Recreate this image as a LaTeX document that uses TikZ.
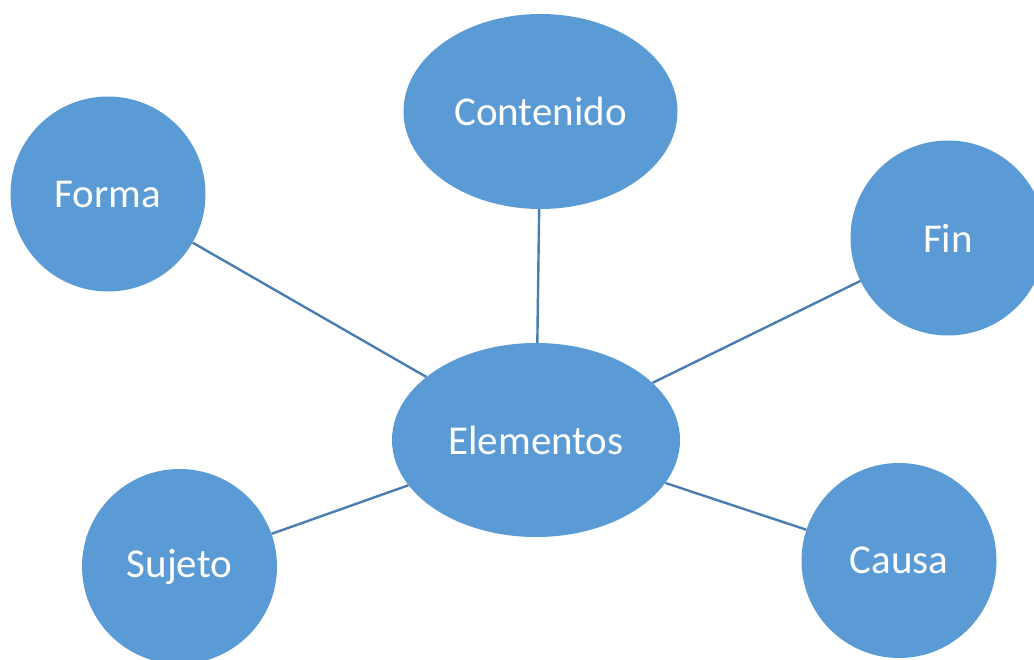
\documentclass[tikz,border=0pt]{standalone}
\usepackage{fontspec}
\setmainfont{Carlito}
\usetikzlibrary{shapes.geometric}
\definecolor{nodeblue}{HTML}{5B9BD5}
\definecolor{linkblue}{HTML}{4A7EB0}
\tikzset{
  bubble/.style={fill=nodeblue, draw=none, text=white, inner sep=0pt,
    font=\fontsize{41}{49}\selectfont},
  round/.style={bubble, circle, minimum size=195pt},
  link/.style={draw=linkblue, line width=2.4pt}
}
\begin{document}
\begin{tikzpicture}[x=1pt,y=-1pt]
\useasboundingbox (0,0) rectangle (1034,660);
\clip (0,0) rectangle (1034,660);
\node[bubble, ellipse, minimum width=274pt, minimum height=195pt] (contenido) at (540.5,111.5) {Contenido};
\node[bubble, ellipse, minimum width=288pt, minimum height=194pt] (elementos) at (536,440) {Elementos};
\node[round] (forma) at (108,194) {Forma};
\node[round] (fin) at (948,238) {Fin};
\node[round] (sujeto) at (179.5,566.5) {Sujeto};
\node[round] (causa) at (899,560.5) {Causa};
\draw[link] (contenido) -- (elementos);
\draw[link] (forma) -- (elementos);
\draw[link] (fin) -- (elementos);
\draw[link] (sujeto) -- (elementos);
\draw[link] (causa) -- (elementos);
\end{tikzpicture}
\end{document}
